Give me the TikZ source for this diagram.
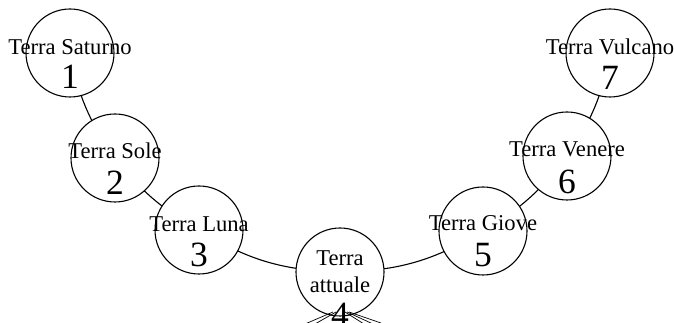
\documentclass[tikz,border=0pt]{standalone}
\usepackage{fontspec}
\setmainfont{Liberation Serif}
\begin{document}
\begin{tikzpicture}[x=1pt,y=1pt,
  planet/.style={circle,draw=black,fill=white,line width=1.1pt,minimum size=88pt,inner sep=0pt},
  pname/.style={anchor=base,inner sep=0pt,font=\fontsize{22.6}{26}\selectfont},
  pnum/.style={anchor=base,inner sep=0pt,font=\fontsize{35.5}{40}\selectfont},
  link/.style={line width=1.1pt},
  ray/.style={line width=0.7pt}]
\useasboundingbox (0,0) rectangle (674,323);
% connectors (drawn behind circles)
\coordinate (c1p) at (70,270);
\coordinate (c2p) at (115,165);
\coordinate (c3p) at (199,93);
\coordinate (c4p) at (340,51);
\coordinate (c5p) at (483,92);
\coordinate (c6p) at (567,167);
\coordinate (c7p) at (610,270);
\draw[link] (c1p) to[bend right=12] (c2p) to[bend right=11] (c3p) to[bend right=15] (c4p)
  to[bend right=15] (c5p) to[bend right=11] (c6p) to[bend right=12] (c7p);
% circles
\node[planet] (c1) at (c1p) {};
\node[planet] (c2) at (c2p) {};
\node[planet] (c3) at (c3p) {};
\node[planet] (c4) at (c4p) {};
\node[planet] (c5) at (c5p) {};
\node[planet] (c6) at (c6p) {};
\node[planet] (c7) at (c7p) {};
% texts
\node[pname] (t1) at ([yshift=-2pt]c1.center) {Terra Saturno};
\node[pnum]  (n1) at ([yshift=-36pt]c1.center) {1};
\node[pname] (t2) at ([yshift=-1pt]c2.center) {Terra Sole};
\node[pnum]  (n2) at ([yshift=-37pt]c2.center) {2};
\node[pname] (t3) at ([yshift=-2pt]c3.center) {Terra Luna};
\node[pnum]  (n3) at ([yshift=-37pt]c3.center) {3};
\node[pname] (t4a) at ([yshift=6pt]c4.center) {Terra};
\node[pname] (t4b) at ([yshift=-21pt]c4.center) {attuale};
\node[pnum]  (n4) at ([yshift=-55pt]c4.center) {4};
\node[pname] (t5) at ([yshift=0pt]c5.center) {Terra Giove};
\node[pnum]  (n5) at ([yshift=-36pt]c5.center) {5};
\node[pname] (t6) at ([yshift=-1pt]c6.center) {Terra Venere};
\node[pnum]  (n6) at ([yshift=-38pt]c6.center) {6};
\node[pname] (t7) at ([yshift=-2pt]c7.center) {Terra Vulcano};
\node[pnum]  (n7) at ([yshift=-37pt]c7.center) {7};
% rays below circle 4
\coordinate (s1) at (333,11);
\coordinate (s2) at (336,11);
\coordinate (s3) at (345,11);
\coordinate (s4) at (347,11);
\coordinate (s5) at (349,11);
\coordinate (r1) at (305,-1);
\coordinate (r2) at (315,-1);
\coordinate (r3) at (364,-1);
\coordinate (r4) at (373,-1);
\coordinate (r5) at (381,0);
\draw[ray] (s1) -- (r1);
\draw[ray] (s2) -- (r2);
\draw[ray] (s3) -- (r3);
\draw[ray] (s4) -- (r4);
\draw[ray] (s5) -- (r5);
\end{tikzpicture}
\end{document}
